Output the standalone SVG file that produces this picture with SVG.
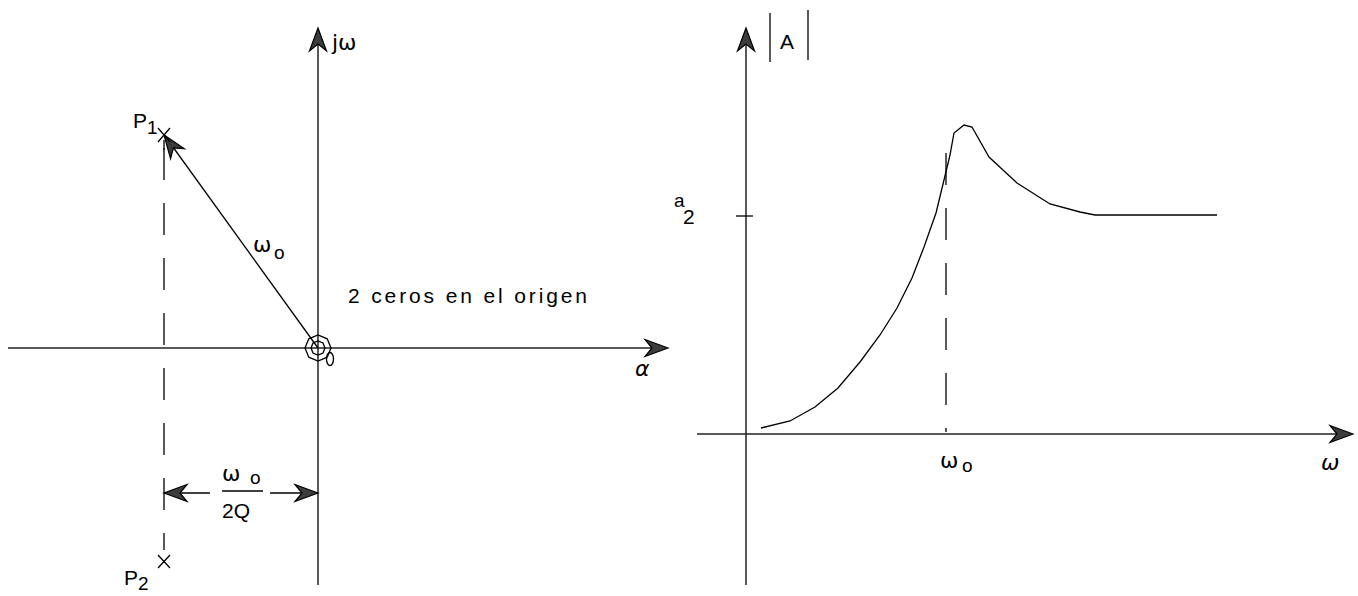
<svg xmlns="http://www.w3.org/2000/svg" width="1358" height="596" viewBox="0 0 1358 596">
<style>
  .ln{stroke:#000;stroke-width:1.3;fill:none}
  .ax{stroke:#222;stroke-width:1.5;fill:none}
  .ds{stroke:#000;stroke-width:1.3;fill:none;stroke-dasharray:32 23}
  .t{font-family:"Liberation Sans",Arial,sans-serif;font-size:21px;fill:#000}
  .ts{font-family:"Liberation Sans",Arial,sans-serif;font-size:19px;fill:#000}
  .tw{font-family:"DejaVu Sans","Liberation Sans",sans-serif;font-size:22px;fill:#000}
  .ah{fill:#3c3c3c;stroke:#000;stroke-width:1.2}
</style>
<defs>
  <path id="arr" d="M0,0 L-23,-8.5 L-16,0 L-23,8.5 Z"/>
</defs>
<rect width="1358" height="596" fill="#fff"/>

<g id="left-axes">
  <line class="ax" x1="8" y1="348" x2="666" y2="348"/>
  <line class="ax" x1="318" y1="30" x2="318" y2="585"/>
  <use href="#arr" class="ah" transform="translate(668,348)"/>
  <use href="#arr" class="ah" transform="translate(318,28) rotate(-90)"/>
  <text class="tw" x="332" y="50">jω</text>
  <text class="tw" x="635" y="376" font-style="italic">α</text>
</g>

<g id="pole-p1">
  <line class="ln" x1="318" y1="348" x2="165" y2="136"/>
  <use href="#arr" class="ah" transform="translate(164,135) rotate(234.2)"/>
  <path class="ln" d="M158,128 L170,142 M170,128 L158,142"/>
  <text class="t" x="133" y="128">P</text>
  <text class="ts" x="147" y="134">1</text>
  <text class="tw" x="253" y="252">ω</text>
  <text class="ts" x="274" y="259">o</text>
</g>

<g id="pole-p2">
  <line class="ds" x1="164" y1="148" x2="164" y2="550"/>
  <line class="ln" x1="164" y1="140" x2="164" y2="150"/>
  <path class="ln" d="M158,555 L170,568 M170,555 L158,568"/>
  <text class="t" x="124" y="585">P</text>
  <text class="ts" x="138" y="590">2</text>
</g>

<g id="zeros">
  <polygon class="ln" points="331,348 327.2,357.2 318,361 308.8,357.2 305,348 308.8,338.8 318,335 327.2,338.8"/>
  <polygon class="ln" points="325,348 323,353 318,355 313,353 311,348 313,343 318,341 323,343"/>
  <ellipse class="ln" cx="330" cy="359" rx="3.5" ry="6.5"/>
  <text class="t" x="348" y="303" textLength="239" lengthAdjust="spacing">2 ceros en el origen</text>
</g>

<g id="dimension">
  <line class="ln" x1="164" y1="493" x2="210" y2="493"/>
  <line class="ln" x1="270" y1="493" x2="318" y2="493"/>
  <use href="#arr" class="ah" transform="translate(164,493) rotate(180)"/>
  <use href="#arr" class="ah" transform="translate(318,493)"/>
  <line class="ln" x1="222" y1="491" x2="263" y2="491"/>
  <text class="tw" x="222" y="481">ω</text>
  <text class="ts" x="250" y="484">o</text>
  <text class="t" x="222" y="518">2Q</text>
</g>

<g id="right-axes">
  <line class="ax" x1="697" y1="434" x2="1350" y2="434"/>
  <line class="ax" x1="746" y1="30" x2="746" y2="585"/>
  <use href="#arr" class="ah" transform="translate(1353,434)"/>
  <use href="#arr" class="ah" transform="translate(746,28) rotate(-90)"/>
  <line class="ln" x1="770" y1="13" x2="770" y2="62"/>
  <line class="ln" x1="808" y1="10" x2="808" y2="60"/>
  <text class="t" x="780" y="49">A</text>
  <text class="tw" x="1321" y="470" font-style="italic">ω</text>
  <line class="ln" x1="736" y1="216" x2="753" y2="216"/>
  <text class="ts" x="674" y="207">a</text>
  <text class="t" x="683" y="224">2</text>
</g>

<g id="response">
  <polyline class="ln" points="761,428 790,421 815,407 838,388 860,362 880,335 897,308 912,278 924,247 936,213 944,180 950,155 954,133 964,125 972,127 989,157 1017,183 1050,204 1080,212 1095,215 1217,215"/>
  <line class="ds" x1="946" y1="153" x2="946" y2="432"/>
  <text class="tw" x="940" y="468">ω</text>
  <text class="ts" x="962" y="472">o</text>
</g>
</svg>
